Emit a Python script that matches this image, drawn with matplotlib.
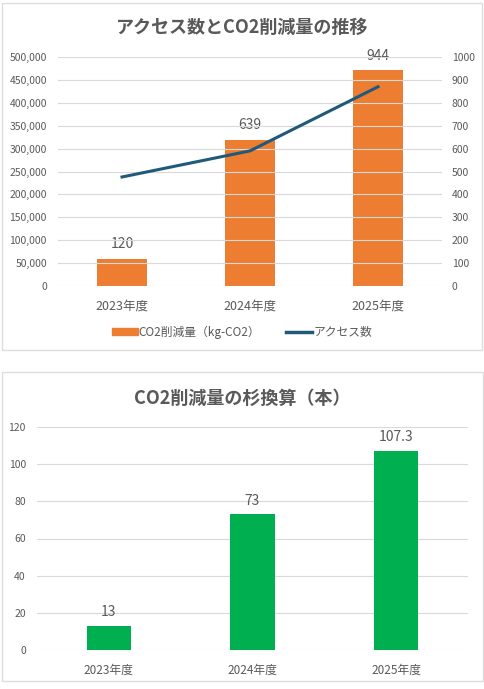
import numpy as np
import matplotlib.pyplot as plt
from matplotlib.patches import Rectangle
from matplotlib.lines import Line2D

plt.rcParams['font.family'] = ['Noto Sans CJK JP', 'DejaVu Sans']

years = ['2023年度', '2024年度', '2025年度']
co2 = [120, 639, 944]
access = [238000, 295000, 435000]
sugi = [13, 73, 107.3]
sugi_labels = ['13', '73', '107.3']

W, H = 485, 689
fig = plt.figure(figsize=(W / 100, H / 100), dpi=100)
fig.patch.set_facecolor('white')

gray = '#595959'
grid = '#D9D9D9'
orange = '#ED7D31'
blue = '#1F5A7A'
green = '#00B050'

# frames round both charts
fig.add_artist(Rectangle((2 / W, 1 - 350 / H), 480 / W, 347 / H, transform=fig.transFigure,
                         fill=False, edgecolor='#DDDDDD', lw=1))
fig.add_artist(Rectangle((2 / W, 1 - 681 / H), 481 / W, 309 / H, transform=fig.transFigure,
                         fill=False, edgecolor='#DDDDDD', lw=1))

# ---- top chart
ax = fig.add_axes([58 / W, 1 - 286 / H, 384 / W, 229 / H])
ax2 = ax.twinx()
x = np.arange(len(years))

ax.plot(x, access, color=blue, lw=2.2, zorder=5)
ax.set_ylim(0, 500000)
ax.set_yticks(np.arange(0, 500001, 50000))
ax.set_yticklabels([f'{v:,}' for v in range(0, 500001, 50000)])
ax.set_xlim(-0.5, 2.5)
ax.set_xticks(x)
ax.set_xticklabels(years, fontsize=9, color=gray)
ax.grid(axis='y', color=grid, lw=0.8)
ax.set_axisbelow(True)

bars = ax2.bar(x, co2, width=0.39, color=orange, zorder=2)
ax2.set_ylim(0, 1000)
ax2.set_yticks(np.arange(0, 1001, 100))
for b, v in zip(bars, co2):
    ax2.text(b.get_x() + b.get_width() / 2, v + 62, str(v), ha='center', va='center',
             fontsize=10, color=gray)

# line above bars
ax.set_zorder(ax2.get_zorder() + 1)
ax.patch.set_visible(False)

for a in (ax, ax2):
    for s in a.spines.values():
        s.set_visible(False)
    a.tick_params(length=0, labelsize=7.5, labelcolor=gray)
ax.tick_params(axis='x', labelsize=9, pad=10)
ax.tick_params(axis='y', pad=8)
ax2.tick_params(axis='y', pad=7)

fig.text(242 / W, 1 - 27 / H, 'アクセス数とCO2削減量の推移', ha='center', va='center',
         fontsize=13, fontweight='bold', color=gray)

handles = [Rectangle((0, 0), 1, 1, color=orange), Line2D([0], [0], color=blue, lw=2.5)]
fig.legend(handles, ['CO2削減量（kg-CO2）', 'アクセス数'], loc='center',
           bbox_to_anchor=(242 / W, 1 - 332 / H), ncol=2, frameon=False, fontsize=8.5,
           labelcolor=gray, handlelength=2.2, handleheight=0.6, handletextpad=0.1,
           columnspacing=2.2)

# ---- bottom chart
bx = fig.add_axes([37 / W, 1 - 650 / H, 431 / W, 223 / H])
bb = bx.bar(x, sugi, width=0.31, color=green, zorder=2)
bx.set_ylim(0, 120)
bx.set_yticks(np.arange(0, 121, 20))
bx.set_xlim(-0.5, 2.5)
bx.set_xticks(x)
bx.set_xticklabels(years)
bx.grid(axis='y', color=grid, lw=0.8)
bx.set_axisbelow(True)
for s in bx.spines.values():
    s.set_visible(False)
bx.tick_params(length=0, labelcolor=gray)
bx.tick_params(axis='y', labelsize=7.5, pad=8)
bx.tick_params(axis='x', labelsize=8.5, pad=10)
for b, v, t in zip(bb, sugi, sugi_labels):
    bx.text(b.get_x() + b.get_width() / 2, v + 7.3, t, ha='center', va='center',
            fontsize=10, color=gray)

fig.text(242 / W, 1 - 398 / H, 'CO2削減量の杉換算（本）', ha='center', va='center',
         fontsize=13, fontweight='bold', color=gray)

fig.savefig('out.png', dpi=100)
